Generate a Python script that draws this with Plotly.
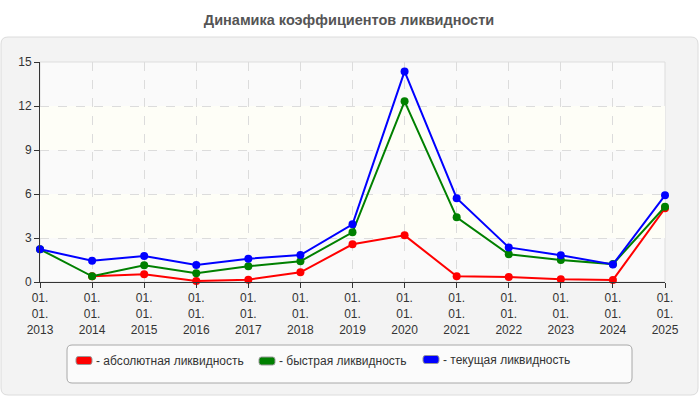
import plotly.graph_objects as go

# Data
years = [2013, 2014, 2015, 2016, 2017, 2018, 2019, 2020, 2021, 2022, 2023, 2024, 2025]
tick_labels = ["01.<br>01.<br>" + str(y) for y in years]

absolute = [None, 0.40, 0.52, 0.07, 0.16, 0.66, 2.57, 3.18, 0.39, 0.34, 0.18, 0.14, 5.02]
quick = [2.23, 0.39, 1.14, 0.59, 1.07, 1.41, 3.39, 12.32, 4.41, 1.89, 1.50, 1.22, 5.13]
current = [2.23, 1.45, 1.77, 1.16, 1.59, 1.84, 3.93, 14.36, 5.71, 2.36, 1.82, 1.20, 5.91]

names = ["- абсолютная ликвидность", "- быстрая ликвидность", "- текущая ликвидность"]
colors = ["#ff0000", "#008000", "#0000ff"]

# plot area in pixels (700x400 page)
L, R, T, B = 40, 665, 62, 282


def px(x):
    return (x - L) / (R - L)


def py(y):
    return (B - y) / (B - T)


def rounded(x0, y0, x1, y1, r):
    # rounded rectangle path, pixel coords -> paper coords
    pts = [
        f"M {px(x0 + r)},{py(y0)}",
        f"L {px(x1 - r)},{py(y0)}",
        f"Q {px(x1)},{py(y0)} {px(x1)},{py(y0 + r)}",
        f"L {px(x1)},{py(y1 - r)}",
        f"Q {px(x1)},{py(y1)} {px(x1 - r)},{py(y1)}",
        f"L {px(x0 + r)},{py(y1)}",
        f"Q {px(x0)},{py(y1)} {px(x0)},{py(y1 - r)}",
        f"L {px(x0)},{py(y0 + r)}",
        f"Q {px(x0)},{py(y0)} {px(x0 + r)},{py(y0)}",
        "Z",
    ]
    return " ".join(pts)


fig = go.Figure()

for name, vals, color in zip(names, [absolute, quick, current], colors):
    fig.add_trace(go.Scatter(
        x=years, y=vals, name=name, mode="lines+markers",
        line=dict(color=color, width=2),
        marker=dict(color=color, size=8),
        showlegend=False, cliponaxis=False,
    ))

shapes = [
    dict(type="path", xref="paper", yref="paper", layer="below",
         path=rounded(1, 37, 698, 395, 7),
         fillcolor="#f3f3f3", line=dict(color="#dcdcdc", width=1)),
    dict(type="rect", xref="paper", yref="paper", layer="below",
         x0=0, x1=1, y0=0, y1=1, fillcolor="#fafafa",
         line=dict(color="#dddddd", width=1)),
    dict(type="rect", xref="paper", yref="y", layer="below",
         x0=0, x1=1, y0=9, y1=12, fillcolor="#fefef7", line=dict(width=0)),
    dict(type="rect", xref="paper", yref="y", layer="below",
         x0=0, x1=1, y0=3, y1=6, fillcolor="#fefef7", line=dict(width=0)),
    dict(type="path", xref="paper", yref="paper", layer="below",
         path=rounded(67, 345, 632, 383, 5),
         fillcolor="#fbfbfb", line=dict(color="#a8a8a8", width=1)),
]

# custom legend: colored rounded swatch + text
annotations = []
legend_x = [76, 259, 423]
legend_y = [360.5, 361, 359.5]
for name, color, lx, ly in zip(names, colors, legend_x, legend_y):
    shapes.append(dict(type="path", xref="paper", yref="paper", layer="above",
                       path=rounded(lx, ly - 4, lx + 16, ly + 4, 2.5),
                       fillcolor=color, line=dict(color="#999", width=1)))
    annotations.append(dict(xref="paper", yref="paper", x=px(lx + 18), y=py(ly),
                            xanchor="left", yanchor="middle", showarrow=False,
                            text=name, font=dict(size=12, color="#333")))

fig.update_layout(
    width=700, height=400,
    margin=dict(l=L, r=700 - R, t=T, b=400 - B),
    paper_bgcolor="white", plot_bgcolor="rgba(0,0,0,0)",
    font=dict(family="Liberation Sans, Arial", size=12, color="#333"),
    title=dict(text="<b>Динамика коэффициентов ликвидности</b>",
               x=349 / 700, xref="container", y=1 - 20 / 400, yref="container",
               xanchor="center", yanchor="middle",
               font=dict(family="Liberation Sans, Arial", size=14.5, color="#555")),
    shapes=shapes,
    annotations=annotations,
    showlegend=False,
)

fig.update_xaxes(
    range=[2013, 2025], tickvals=years, ticktext=tick_labels,
    showgrid=True, gridcolor="#dcdcdc", griddash="dash", gridwidth=1,
    showline=True, linecolor="#333", linewidth=1,
    ticks="outside", ticklen=5, tickcolor="#333", zeroline=False,
    tickfont=dict(size=12, color="#333"),
)
fig.update_yaxes(
    range=[0, 15], dtick=3, tick0=0,
    showgrid=True, gridcolor="#dcdcdc", griddash="dash", gridwidth=1,
    showline=True, linecolor="#333", linewidth=1,
    ticks="outside", ticklen=5, tickcolor="#333", zeroline=False,
    tickfont=dict(size=12, color="#333"),
)

fig.write_html("out.html", config={"displayModeBar": False},
               post_script="document.body.style.margin = '0';")
